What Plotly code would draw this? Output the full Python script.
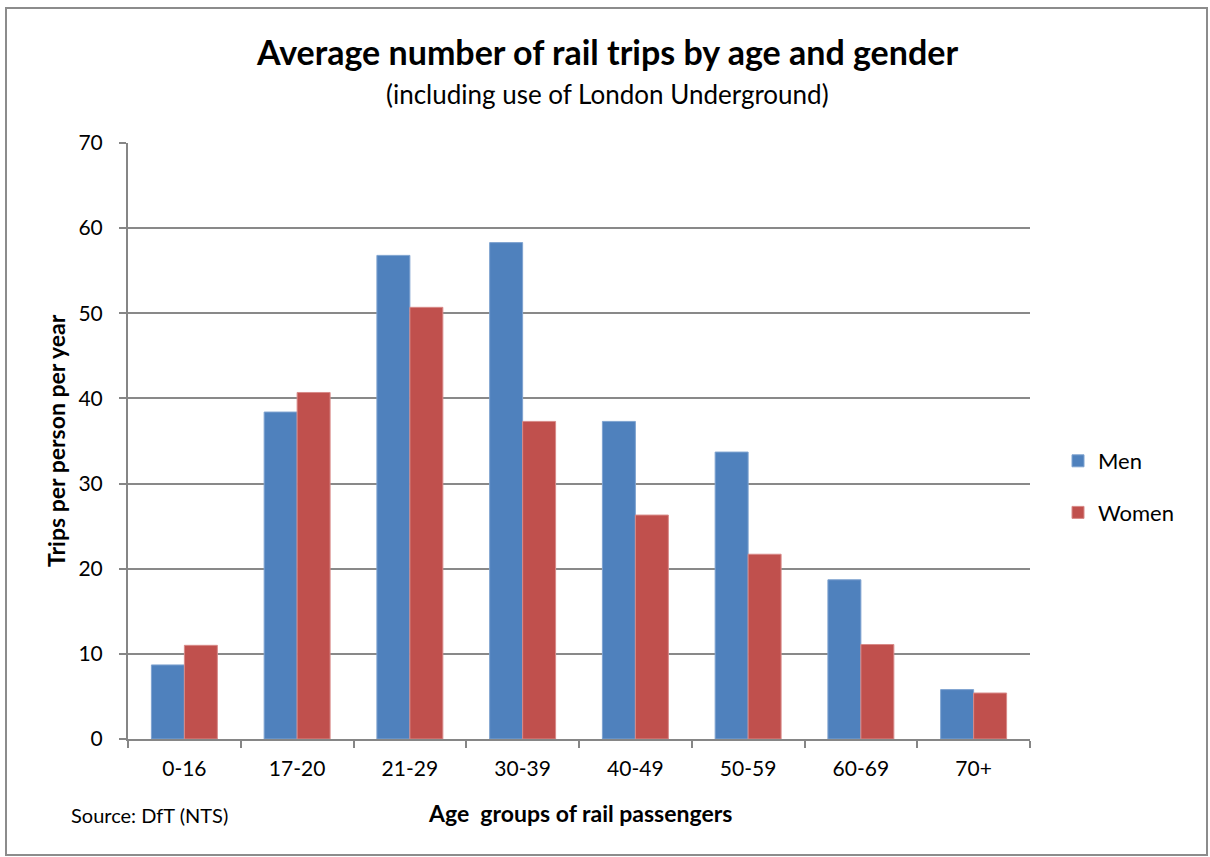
import plotly.graph_objects as go

categories = ["0-16", "17-20", "21-29", "30-39", "40-49", "50-59", "60-69", "70+"]
men = [8.7, 38.4, 56.8, 58.3, 37.3, 33.7, 18.7, 5.8]
women = [11.0, 40.7, 50.7, 37.3, 26.3, 21.7, 11.1, 5.4]
y_ticks = [0, 10, 20, 30, 40, 50, 60, 70]

FONT = "Lato, 'Open Sans', sans-serif"
W, H = 1210, 857
L, R, T, B = 128, 180, 143, 118
pw, ph = W - L - R, H - T - B

def px(x):
    return (x - L) / pw

def py(y):
    return (H - B - y) / ph

fig = go.Figure()
fig.add_trace(go.Bar(x=categories, y=men, name="Men", legendgroup="m",
                     marker=dict(color="#4F81BD", line=dict(color="#7FA3D0", width=1))))
fig.add_trace(go.Bar(x=categories, y=women, name="Women", legendgroup="w",
                     marker=dict(color="#C0504D", line=dict(color="#D88A88", width=1))))

fig.update_layout(
    width=W, height=H,
    margin=dict(l=L, r=R, t=T, b=B),
    paper_bgcolor="white", plot_bgcolor="white",
    barmode="group", bargap=0.415, bargroupgap=0,
    font=dict(family=FONT, color="black", size=21),
    showlegend=True,
    legend=dict(x=px(1058), y=py(487), xanchor="left", yanchor="middle",
                font=dict(size=22, family=FONT), itemwidth=30, tracegroupgap=20,
                bgcolor="rgba(0,0,0,0)"),
    annotations=[
        dict(text="<b>Average number of rail trips by age and gender</b>", x=px(607), y=py(52),
             xref="paper", yref="paper", showarrow=False, font=dict(size=34, family=FONT), xanchor="center", yanchor="middle"),
        dict(text="(including use of London Underground)", x=px(607), y=py(94),
             xref="paper", yref="paper", showarrow=False, font=dict(size=26, family=FONT), xanchor="center", yanchor="middle"),
        dict(text="<b>Trips per person per year</b>", x=px(56), y=py(441), textangle=-90,
             xref="paper", yref="paper", showarrow=False, font=dict(size=23, family=FONT), xanchor="center", yanchor="middle"),
        dict(text="<b>Age  groups of rail passengers</b>", x=px(580), y=py(813),
             xref="paper", yref="paper", showarrow=False, font=dict(size=23, family=FONT), xanchor="center", yanchor="middle"),
        dict(text="Source: DfT (NTS)", x=px(69), y=py(815),
             xref="paper", yref="paper", showarrow=False, font=dict(size=20, family=FONT), xanchor="left", yanchor="middle"),
    ],
    shapes=[
        dict(type="rect", xref="paper", yref="paper", x0=px(6), x1=px(1207), y0=py(855), y1=py(8),
             line=dict(color="#8C8C8C", width=2), fillcolor="rgba(0,0,0,0)", layer="below"),
    ],
)

fig.update_xaxes(showline=True, linecolor="#868686", linewidth=2, ticks="outside", ticklen=7,
                 tickcolor="#868686", tickwidth=2, tickson="boundaries", showgrid=False,
                 tickfont=dict(size=21), mirror=False, ticklabelstandoff=10)
fig.update_yaxes(range=[0, 70], tickvals=y_ticks, showline=True, linecolor="#868686", linewidth=2,
                 ticks="outside", ticklen=7, tickcolor="#868686", tickwidth=2,
                 showgrid=True, gridcolor="#898989", gridwidth=2, zeroline=False,
                 tickfont=dict(size=21), ticklabelstandoff=12)

fig.write_html("out.html", config={"displayModeBar": False},
               post_script="document.body.style.margin='0';document.body.style.overflow='hidden';")
